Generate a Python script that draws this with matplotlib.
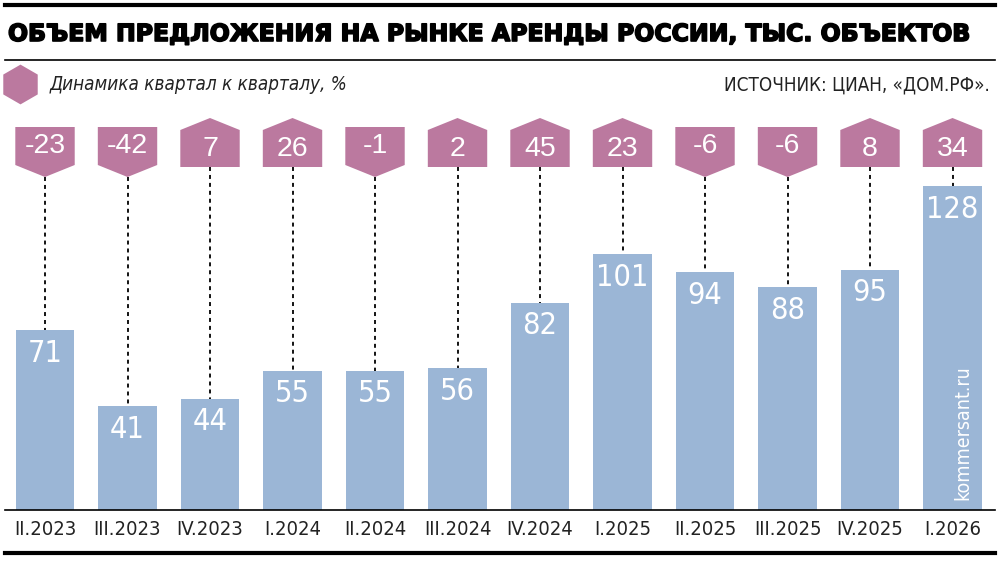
import matplotlib
matplotlib.use('Agg')
import matplotlib.pyplot as plt
import matplotlib.patheffects as pe
from matplotlib import font_manager
from matplotlib.patches import Polygon
from matplotlib.transforms import blended_transform_factory

quarters = ['II.2023', 'III.2023', 'IV.2023', 'I.2024', 'II.2024', 'III.2024',
            'IV.2024', 'I.2025', 'II.2025', 'III.2025', 'IV.2025', 'I.2026']
volume = [71, 41, 44, 55, 55, 56, 82, 101, 94, 88, 95, 128]
qoq_change = [-23, -42, 7, 26, -1, 2, 45, 23, -6, -6, 8, 34]

title = 'ОБЪЕМ ПРЕДЛОЖЕНИЯ НА РЫНКЕ АРЕНДЫ РОССИИ, ТЫС. ОБЪЕКТОВ'
legend_label = 'Динамика квартал к кварталу, %'
source = 'ИСТОЧНИК: ЦИАН, «ДОМ.РФ».'

BAR_COLOR = '#9bb6d6'
HEX_COLOR = '#bb799f'

installed = {f.name for f in font_manager.fontManager.ttflist}
if 'Liberation Sans Narrow' in installed:
    narrow = dict(family='Liberation Sans Narrow')
else:
    narrow = dict(family='DejaVu Sans', stretch='condensed')

W, H = 1000, 563
fig = plt.figure(figsize=(W / 100, H / 100), dpi=100)

# main axes: pixel 5..995 horizontally, 120..510 vertically
ax = fig.add_axes([5 / W, (H - 510) / H, 990 / W, 390 / H])
x = list(range(len(quarters)))
ax.bar(x, volume, width=0.71, color=BAR_COLOR, zorder=2)
ax.set_xlim(-0.485, 11.515)
ax.set_ylim(0, 390 / 2.53)
ax.set_xticks(x)
ax.set_xticklabels(quarters, fontsize=14.5, color='#222222', **narrow)
ax.tick_params(axis='x', length=0, pad=7)
ax.set_yticks([])
for s in ['top', 'left', 'right']:
    ax.spines[s].set_visible(False)
ax.spines['bottom'].set_linewidth(1.2)

trans = blended_transform_factory(ax.transData, ax.transAxes)
pix = 1 / 390.0
hw = 0.36
for xi, v, c in zip(x, volume, qoq_change):
    # value inside bar
    ax.text(xi, v - 3.4, str(v), ha='center', va='top', color='white',
            fontsize=22, zorder=4, **narrow)
    if c < 0:
        top, shoulder, tip = 1 - 7 * pix, 1 - 45 * pix, 1 - 57 * pix
        pts = [(xi - hw, top), (xi + hw, top), (xi + hw, shoulder),
               (xi, tip), (xi - hw, shoulder)]
        bottom = tip
        ty = 1 - 26 * pix
    else:
        tip, shoulder, bottom = 1 + 2 * pix, 1 - 10 * pix, 1 - 47 * pix
        pts = [(xi, tip), (xi + hw, shoulder), (xi + hw, bottom),
               (xi - hw, bottom), (xi - hw, shoulder)]
        ty = 1 - 29 * pix
    ax.add_patch(Polygon(pts, closed=True, transform=trans, color=HEX_COLOR,
                         clip_on=False, zorder=3, lw=0))
    ax.text(xi, ty, str(c), transform=trans, ha='center', va='center',
            color='white', fontsize=20.5, family='Liberation Sans', zorder=4)
    ax.plot([xi, xi], [bottom, (v / (390 / 2.53))], transform=trans,
            color='black', lw=1.3, ls=(0, (2.2, 2.2)), zorder=1, clip_on=False)

# watermark
ax.text(11.12, 4, 'kommersant.ru', rotation=90, ha='center', va='bottom',
        color='white', fontsize=14, zorder=4, **narrow)

# header lines
fig.add_artist(plt.Line2D([5 / W, 995 / W], [1 - 4.5 / H, 1 - 4.5 / H],
                          color='black', lw=3))
fig.add_artist(plt.Line2D([5 / W, 995 / W], [1 - 60 / H, 1 - 60 / H],
                          color='black', lw=1.2))
fig.add_artist(plt.Line2D([5 / W, 995 / W], [1 - 553 / H, 1 - 553 / H],
                          color='black', lw=3))

t = fig.text(8 / W, 1 - 34 / H, title, ha='left', va='center',
             fontsize=22, fontweight='heavy', family='DejaVu Sans',
             path_effects=[pe.withStroke(linewidth=1.2, foreground='black')])
fig.canvas.draw()
r = fig.canvas.get_renderer()
wpx = t.get_window_extent(r).width
t.set_fontsize(22 * 958 / wpx)

ax_leg = fig.add_axes([0, 0, 1, 1], facecolor='none')
ax_leg.set_xlim(0, W)
ax_leg.set_ylim(H, 0)
ax_leg.axis('off')
ax_leg.scatter([20], [84], marker='h', s=820, color=HEX_COLOR, lw=0)
ax_leg.text(50, 85, legend_label, ha='left', va='center', fontsize=13.5,
            style='italic', color='#222222', **narrow)
ax_leg.text(990, 85, source, ha='right', va='center', fontsize=13.5,
            color='#222222', **narrow)

fig.savefig('out.png', dpi=100, facecolor='white')
